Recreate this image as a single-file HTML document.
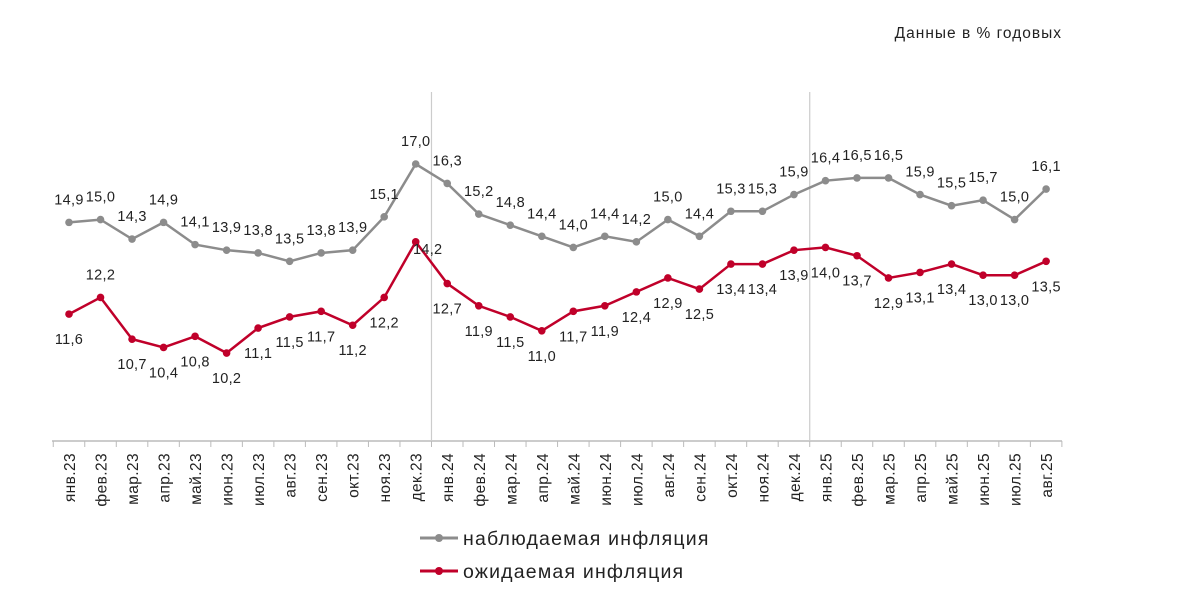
<!DOCTYPE html>
<html><head><meta charset="utf-8"><style>
body{margin:0;background:#fff;width:1179px;height:594px;overflow:hidden;font-family:"Liberation Sans",sans-serif}
</style></head><body>
<svg id="chart" width="1179" height="594" xmlns="http://www.w3.org/2000/svg" font-family="Liberation Sans, sans-serif">
<text x="1062" y="38" text-anchor="end" font-size="15.5" letter-spacing="1" fill="#222">Данные в % годовых</text>
<g id="grid"></g><g id="series"></g><g id="xlabels"></g>
<g>
<line x1="420" y1="538" x2="458" y2="538" stroke="#8c8c8c" stroke-width="3"/><circle cx="439" cy="538" r="4" fill="#8c8c8c"/>
<text x="463" y="545" font-size="19.5" letter-spacing="1.2" fill="#222">наблюдаемая инфляция</text>
<line x1="420" y1="571" x2="458" y2="571" stroke="#c0002a" stroke-width="3"/><circle cx="439" cy="571" r="4" fill="#c0002a"/>
<text x="463" y="578" font-size="19.5" letter-spacing="1.2" fill="#222">ожидаемая инфляция</text>
</g>
</svg>
<script>
const categories=["янв.23","фев.23","мар.23","апр.23","май.23","июн.23","июл.23","авг.23","сен.23","окт.23","ноя.23","дек.23","янв.24","фев.24","мар.24","апр.24","май.24","июн.24","июл.24","авг.24","сен.24","окт.24","ноя.24","дек.24","янв.25","фев.25","мар.25","апр.25","май.25","июн.25","июл.25","авг.25"];
const observed=[14.9,15.0,14.3,14.9,14.1,13.9,13.8,13.5,13.8,13.9,15.1,17.0,16.3,15.2,14.8,14.4,14.0,14.4,14.2,15.0,14.4,15.3,15.3,15.9,16.4,16.5,16.5,15.9,15.5,15.7,15.0,16.1];
const expected=[11.6,12.2,10.7,10.4,10.8,10.2,11.1,11.5,11.7,11.2,12.2,14.2,12.7,11.9,11.5,11.0,11.7,11.9,12.4,12.9,12.5,13.4,13.4,13.9,14.0,13.7,12.9,13.1,13.4,13.0,13.0,13.5];
const NS="http://www.w3.org/2000/svg";
const x=i=>69+i*31.52;
const y=v=>636.6-v*27.8;
function mk(tag,attrs,parent){const e=document.createElementNS(NS,tag);for(const k in attrs)e.setAttribute(k,attrs[k]);parent.appendChild(e);return e;}
const grid=document.getElementById('grid'),ser=document.getElementById('series'),xl=document.getElementById('xlabels');
let ax=mk('line',{x1:52,y1:441,x2:1062,y2:441,stroke:'#bbb','stroke-width':1.5},grid);


for(let i=0;i<=categories.length;i++){const tx=x(i)-15.76;mk('line',{x1:tx,y1:441,x2:tx,y2:447,stroke:'#bbb'},grid);}
[12,24].forEach(i=>{const l=mk('line',{x1:x(i)-15.76,y1:92,x2:x(i)-15.76,y2:441,stroke:'#ccc','stroke-width':1.2},grid);

});
categories.forEach((c,i)=>{const t=mk('text',{x:0,y:0,transform:`translate(${x(i)+6},453) rotate(-90)`,'text-anchor':'end','font-size':15.5,'letter-spacing':0.4,fill:'#222'},xl);t.textContent=c;

});
function draw(data,color,name,below){
const p=mk('polyline',{points:data.map((v,i)=>x(i)+','+y(v)).join(' '),fill:'none',stroke:color,'stroke-width':2.5},ser);


data.forEach((v,i)=>{const c=mk('circle',{cx:x(i),cy:y(v),r:3.8,fill:color},ser);


let b=below&&!(i===1);let dx=(below&&i===11)?12:0;let dy=(below&&i===11)?-18:0;
const t=mk('text',{x:x(i)+dx,y:(b?y(v)+30:y(v)-18)+dy,'text-anchor':'middle','font-size':14.5,'letter-spacing':0.3,fill:'#222'},ser);
t.textContent=v.toFixed(1).replace('.',',');

});
}
draw(observed,'#8c8c8c','observed',false);
draw(expected,'#c0002a','expected',true);
</script>
</body></html>
